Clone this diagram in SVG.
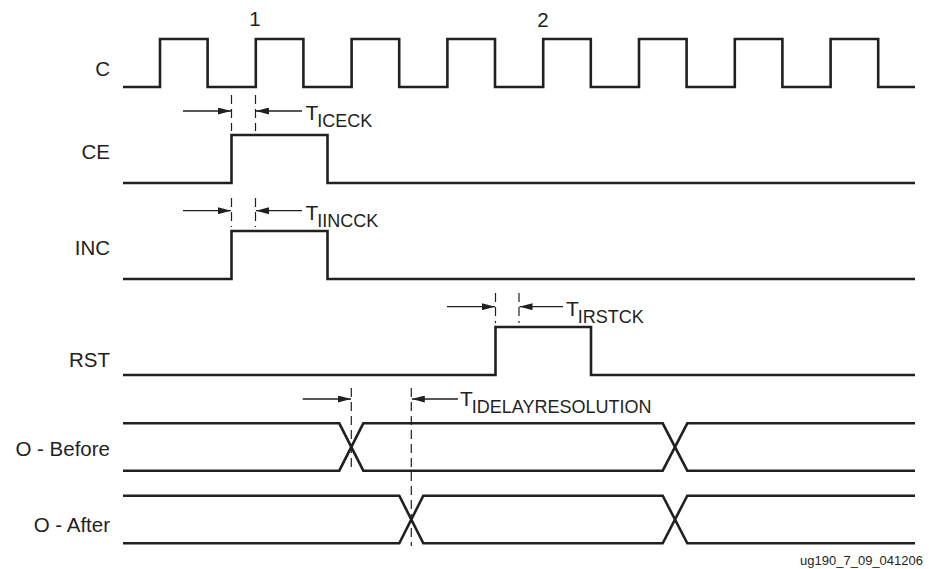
<svg xmlns="http://www.w3.org/2000/svg" width="929" height="569" viewBox="0 0 929 569">
<defs>
<marker id="ah" viewBox="0 0 13 7" refX="13" refY="3.5" markerWidth="13" markerHeight="7" markerUnits="userSpaceOnUse" orient="auto">
<path d="M0 0 L13 3.5 L0 7 Z" fill="#231f20"/>
</marker>
<style>
.sig{fill:none;stroke:#231f20;stroke-width:2.6;stroke-linejoin:miter}
.dash{fill:none;stroke:#231f20;stroke-width:1.2;stroke-dasharray:9 5}
.dim{fill:none;stroke:#231f20;stroke-width:1.3;marker-end:url(#ah)}
text{font-family:"Liberation Sans",Arial,sans-serif;fill:#231f20}
.lbl{font-size:20.5px;text-anchor:end}
.t{font-size:21px}
.sub{font-size:18px}
</style>
</defs>
<rect width="929" height="569" fill="#fff"/>

<g id="labels">
<text class="lbl" x="110" y="76">C</text>
<text class="lbl" x="110" y="159">CE</text>
<text class="lbl" x="110" y="255">INC</text>
<text class="lbl" x="110" y="367">RST</text>
<text class="lbl" x="110" y="456">O - Before</text>
<text class="lbl" x="110" y="531.5">O - After</text>
<text x="255" y="26" font-size="20.5" text-anchor="middle">1</text>
<text x="543" y="26.5" font-size="20.5" text-anchor="middle">2</text>
<text x="923" y="565" font-size="13" text-anchor="end">ug190_7_09_041206</text>
</g>

<g id="C">
<path class="sig" d="M123 87 H160 V39 H207.6 V87 H255.8 V39 H303.4 V87 H351.6 V39 H399.2 V87 H447.4 V39 H495 V87 H543.2 V39 H590.8 V87 H639 V39 H686.6 V87 H734.8 V39 H782.4 V87 H830.6 V39 H878.2 V87 H915"/>
</g>

<g id="CE">
<path class="sig" d="M123 183 H231.5 V135 H327.5 V183 H915"/>
</g>

<g id="INC">
<path class="sig" d="M123 279 H231.5 V231 H327.5 V279 H915"/>
</g>

<g id="RST">
<path class="sig" d="M123 375 H495.5 V327 H591 V375 H915"/>
</g>

<g id="O_Before">
<path class="sig" d="M123 423.3 H339.3 L363.3 470.7 H662.7 L687.3 423.3 H915"/>
<path class="sig" d="M123 470.7 H339.3 L363.3 423.3 H662.7 L687.3 470.7 H915"/>
</g>

<g id="O_After">
<path class="sig" d="M123 495.7 H399.3 L423.3 543.3 H662.7 L687.3 495.7 H915"/>
<path class="sig" d="M123 543.3 H399.3 L423.3 495.7 H662.7 L687.3 543.3 H915"/>
</g>

<g id="connectors">
<!-- TICECK -->
<line class="dash" x1="231.5" y1="95" x2="231.5" y2="131"/>
<line class="dash" x1="255.5" y1="95" x2="255.5" y2="131"/>
<line class="dim" x1="183" y1="111" x2="231" y2="111"/>
<line class="dim" x1="302" y1="111" x2="256" y2="111"/>
<!-- TIINCCK -->
<line class="dash" x1="231.5" y1="198" x2="231.5" y2="227"/>
<line class="dash" x1="255.5" y1="198" x2="255.5" y2="227"/>
<line class="dim" x1="183" y1="210.7" x2="231" y2="210.7"/>
<line class="dim" x1="302" y1="210.7" x2="256" y2="210.7"/>
<!-- TIRSTCK -->
<line class="dash" x1="495.5" y1="293" x2="495.5" y2="323"/>
<line class="dash" x1="519" y1="293" x2="519" y2="323"/>
<line class="dim" x1="447" y1="306.7" x2="495" y2="306.7"/>
<line class="dim" x1="563" y1="306.7" x2="519.5" y2="306.7"/>
<!-- TIDELAYRESOLUTION -->
<line class="dash" x1="351.3" y1="388" x2="351.3" y2="472"/>
<line class="dash" x1="411.3" y1="388" x2="411.3" y2="546"/>
<line class="dim" x1="302.7" y1="399" x2="351" y2="399"/>
<line class="dim" x1="458" y1="399" x2="411.8" y2="399"/>
</g>

<g id="timing_labels">
<text class="t" x="305.5" y="120">T<tspan class="sub" dy="7" dx="-1">ICECK</tspan></text>
<text class="t" x="305.5" y="219.5">T<tspan class="sub" dy="7" dx="-1">IINCCK</tspan></text>
<text class="t" x="566" y="315.5">T<tspan class="sub" dy="7" dx="-1">IRSTCK</tspan></text>
<text class="t" x="460" y="406">T<tspan class="sub" dy="7" dx="-1">IDELAYRESOLUTION</tspan></text>
</g>
</svg>
